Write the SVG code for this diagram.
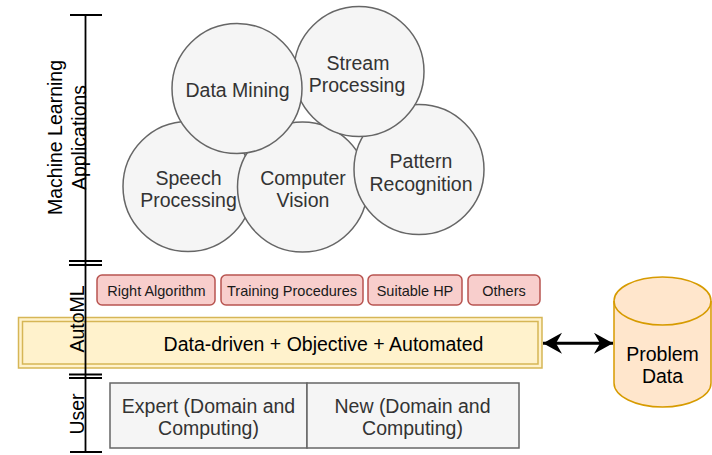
<svg xmlns="http://www.w3.org/2000/svg" width="712" height="455" viewBox="0 0 712 455">
  <style>
    text { font-family: "Liberation Sans", Arial, Helvetica, sans-serif; }
    .big { font-size: 19.5px; text-anchor: middle; }
    .small { font-size: 14.5px; text-anchor: middle; fill: #1a1a1a; }
    .circ { fill: #f5f5f5; stroke: #666666; stroke-width: 1.5; }
    .gray { fill: #f5f5f5; stroke: #666666; stroke-width: 1.5; }
    .red { fill: #f8cecc; stroke: #b85450; stroke-width: 1.5; }
    .dark { fill: #333333; }
    .black { fill: #000000; }
    .axis { stroke: #000000; stroke-width: 1.8; fill: none; }
  </style>
  <defs>
    <marker id="head" markerUnits="userSpaceOnUse" markerWidth="22" markerHeight="22" refX="19" refY="10.5" orient="auto-start-reverse" viewBox="0 0 22 22">
      <path d="M0,0 L19,10.5 L0,21 L6,10.5 Z" fill="#000000"/>
    </marker>
  </defs>
  <rect width="712" height="455" fill="#ffffff"/>

  <!-- Application circles -->
  <g id="speech-processing">
    <circle class="circ" cx="188" cy="186.5" r="65"/>
    <text class="big dark" x="188.5" y="184.5">Speech</text>
    <text class="big dark" x="188.5" y="207">Processing</text>
  </g>
  <g id="computer-vision">
    <circle class="circ" cx="302.5" cy="187" r="65"/>
    <text class="big dark" x="303" y="184.5">Computer</text>
    <text class="big dark" x="303" y="207">Vision</text>
  </g>
  <g id="pattern-recognition">
    <circle class="circ" cx="419" cy="169.5" r="65"/>
    <text class="big dark" x="421" y="167.5">Pattern</text>
    <text class="big dark" x="421" y="190.5">Recognition</text>
  </g>
  <g id="stream-processing">
    <circle class="circ" cx="359" cy="71.5" r="65"/>
    <text class="big dark" x="358" y="69.5">Stream</text>
    <text class="big dark" x="357" y="92">Processing</text>
  </g>
  <g id="data-mining">
    <circle class="circ" cx="237" cy="88.5" r="65"/>
    <text class="big dark" x="237.5" y="97">Data Mining</text>
  </g>

  <!-- AutoML concerns -->
  <g id="right-algorithm">
    <rect class="red" x="97" y="275" width="118" height="30" rx="5"/>
    <text class="small" x="156.5" y="295.5">Right Algorithm</text>
  </g>
  <g id="training-procedures">
    <rect class="red" x="221" y="275" width="142" height="30" rx="5"/>
    <text class="small" x="292" y="295.5">Training Procedures</text>
  </g>
  <g id="suitable-hp">
    <rect class="red" x="368" y="275" width="94" height="30" rx="5"/>
    <text class="small" x="415" y="295.5">Suitable HP</text>
  </g>
  <g id="others">
    <rect class="red" x="468" y="275" width="72" height="30" rx="5"/>
    <text class="small" x="504" y="295.5">Others</text>
  </g>

  <!-- AutoML principle bar (double border) -->
  <g id="automl-bar">
    <rect x="18.5" y="317.5" width="523.5" height="50.5" fill="#fff2cc" stroke="#d6b656" stroke-width="1.5"/>
    <rect x="22.5" y="321.5" width="515.5" height="42.5" fill="none" stroke="#d6b656" stroke-width="1.5"/>
    <text class="big black" x="323.5" y="350.5">Data-driven + Objective + Automated</text>
  </g>

  <!-- Problem data store -->
  <g id="problem-data">
    <path d="M614,301 A48.5,24 0 0 1 711,301 L711,383 A48.5,24 0 0 1 614,383 Z" fill="#ffe6cc" stroke="#d79b00" stroke-width="1.5"/>
    <path d="M614,301 A48.5,24 0 0 0 711,301" fill="none" stroke="#d79b00" stroke-width="1.5"/>
    <text class="big black" x="662.5" y="360.5">Problem</text>
    <text class="big black" x="662.5" y="383">Data</text>
  </g>

  <!-- User types -->
  <g id="expert-user">
    <rect class="gray" x="110" y="383" width="197" height="65"/>
    <text class="big dark" x="208.5" y="412.5">Expert (Domain and</text>
    <text class="big dark" x="208.5" y="435">Computing)</text>
  </g>
  <g id="new-user">
    <rect class="gray" x="307" y="383" width="212" height="65"/>
    <text class="big dark" x="412.5" y="412.5">New (Domain and</text>
    <text class="big dark" x="412.5" y="435">Computing)</text>
  </g>

  <!-- Layer axis with tick marks, drawn over the bar -->
  <g id="axis">
    <path class="axis" d="M85.5,15 V452 M70,15 H102 M69,261 H102 M69,265 H102 M69,374.5 H102 M69,378 H102 M70,452 H102"/>
    <text class="big black" transform="translate(62,137.5) rotate(-90)">Machine Learning</text>
    <text class="big black" transform="translate(85.5,137.5) rotate(-90)">Applications</text>
    <text class="big black" transform="translate(83.5,319) rotate(-90)">AutoML</text>
    <text class="big black" transform="translate(83.5,414) rotate(-90)">User</text>
  </g>

  <!-- Connectors -->
  <g id="connectors">
    <line x1="543" y1="343.3" x2="613" y2="343.3" stroke="#000000" stroke-width="3" marker-start="url(#head)" marker-end="url(#head)"/>
  </g>
</svg>
